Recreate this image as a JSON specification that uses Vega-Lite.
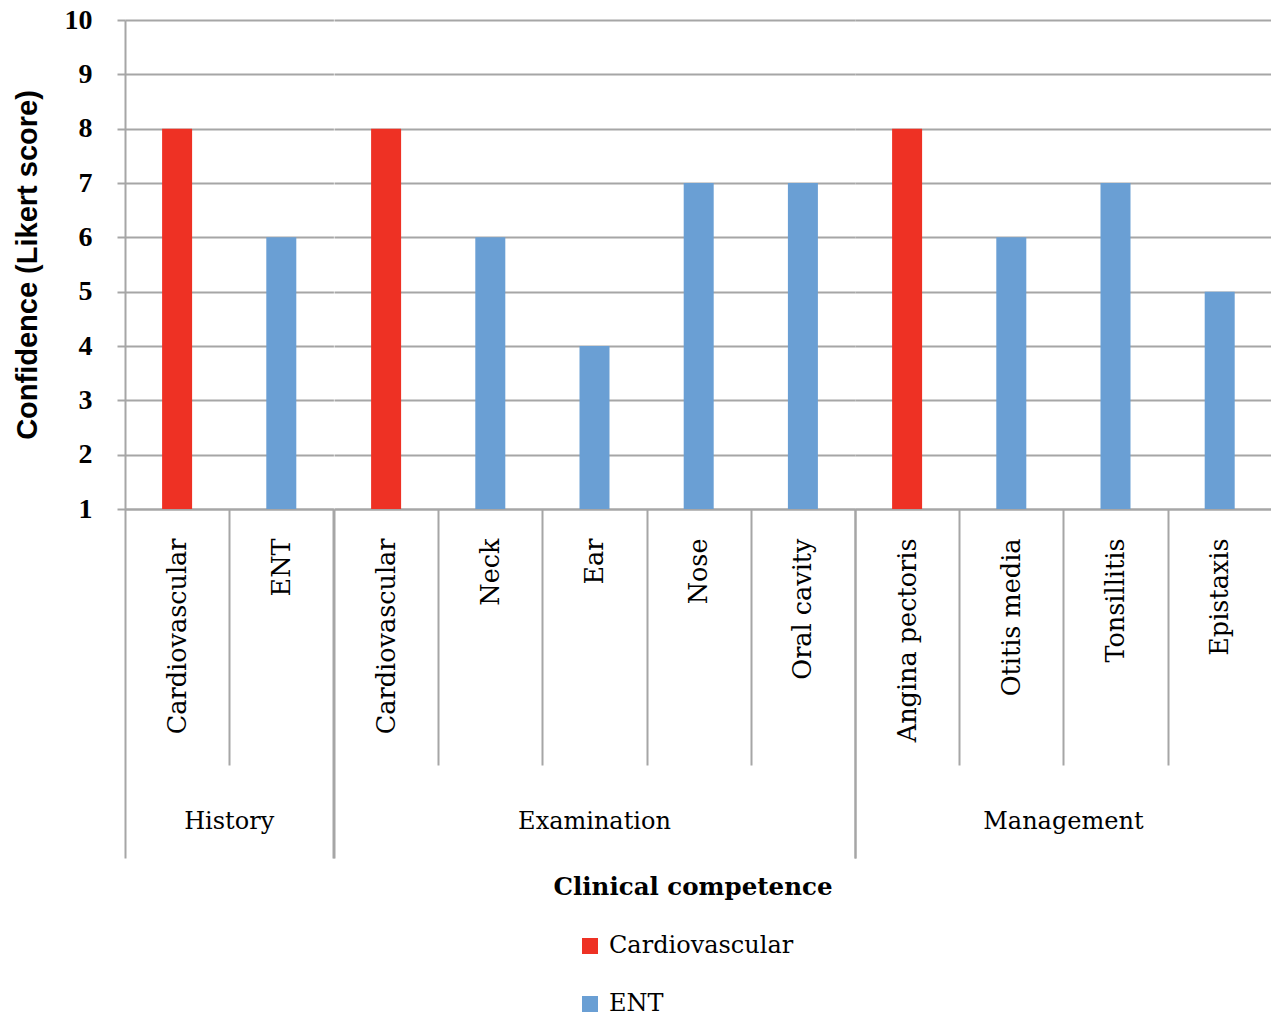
{
  "$schema": "https://vega.github.io/schema/vega-lite/v6.json",
  "padding": {"left": 13, "top": 6, "right": 1, "bottom": 0},
  "background": "white",
  "bounds": "flush",
  "data": {"values": [
    {"group": "History", "item": "Cardiovascular", "series": "Cardiovascular", "value": 8},
    {"group": "History", "item": "ENT", "series": "ENT", "value": 6},
    {"group": "Examination", "item": "Cardiovascular", "series": "Cardiovascular", "value": 8},
    {"group": "Examination", "item": "Neck", "series": "ENT", "value": 6},
    {"group": "Examination", "item": "Ear", "series": "ENT", "value": 4},
    {"group": "Examination", "item": "Nose", "series": "ENT", "value": 7},
    {"group": "Examination", "item": "Oral cavity", "series": "ENT", "value": 7},
    {"group": "Management", "item": "Angina pectoris", "series": "Cardiovascular", "value": 8},
    {"group": "Management", "item": "Otitis media", "series": "ENT", "value": 6},
    {"group": "Management", "item": "Tonsillitis", "series": "ENT", "value": 7},
    {"group": "Management", "item": "Epistaxis", "series": "ENT", "value": 5}
  ]},
  "facet": {
    "column": {
      "field": "group", "type": "nominal",
      "sort": ["History", "Examination", "Management"],
      "header": {
        "title": "Clinical competence", "titleOrient": "bottom",
        "labelOrient": "bottom",
        "labelFont": "DejaVu Serif", "labelFontSize": 24, "labelColor": "black",
        "labelPadding": 301,
        "titleFont": "DejaVu Serif", "titleFontWeight": "bold", "titleFontSize": 24.5,
        "titleColor": "black", "titlePadding": 32
      }
    }
  },
  "spacing": 0,
  "resolve": {"scale": {"x": "independent"}},
  "spec": {
    "width": {"step": 104.2},
    "height": 489,
    "mark": {"type": "bar", "width": 30},
    "encoding": {
      "x": {
        "field": "item", "type": "nominal", "sort": null, "title": null,
        "scale": {"paddingInner": 0, "paddingOuter": 0},
        "axis": {
          "labelAngle": -90, "labelFont": "DejaVu Serif", "labelFontSize": 25.5,
          "labelColor": "black", "labelLimit": 400,
          "labelPadding": {"condition": {"test": "datum.index === 1", "value": -320}, "value": -227},
          "domainColor": "#a6a6a6", "domainWidth": 2,
          "tickBand": "extent", "tickColor": "#a6a6a6", "tickWidth": 2,
          "tickSize": {"condition": {"test": "datum.index === 1 || datum.extra", "value": 349}, "value": 256}
        }
      },
      "y": {
        "field": "value", "type": "quantitative",
        "scale": {"domain": [1, 10], "zero": false, "nice": false},
        "axis": {
          "values": [1, 2, 3, 4, 5, 6, 7, 8, 9, 10],
          "title": "Confidence (Likert score)",
          "titleFont": "Liberation Sans", "titleFontWeight": "bold", "titleFontSize": 29,
          "titleColor": "black", "titlePadding": 22,
          "labelFont": "Liberation Serif", "labelFontWeight": "bold", "labelFontSize": 28,
          "labelColor": "black", "labelPadding": 25,
          "domainColor": "#a6a6a6", "domainWidth": 2,
          "tickColor": "#a6a6a6", "tickWidth": 2, "tickSize": 8,
          "gridColor": "#a6a6a6", "gridWidth": 2
        }
      },
      "y2": {"datum": 1},
      "color": {
        "field": "series", "type": "nominal",
        "scale": {"domain": ["Cardiovascular", "ENT"], "range": ["#ee3124", "#6a9fd4"]},
        "legend": {
          "title": null, "orient": "none", "legendX": 453, "legendY": 914,
          "direction": "vertical", "symbolType": "square", "symbolSize": 256,
          "symbolStrokeWidth": 0, "labelFont": "DejaVu Serif", "labelFontSize": 24,
          "labelColor": "black", "rowPadding": 34, "labelOffset": 7, "padding": 0,
          "labelLimit": 400
        }
      }
    }
  },
  "config": {"view": {"stroke": null}}
}
